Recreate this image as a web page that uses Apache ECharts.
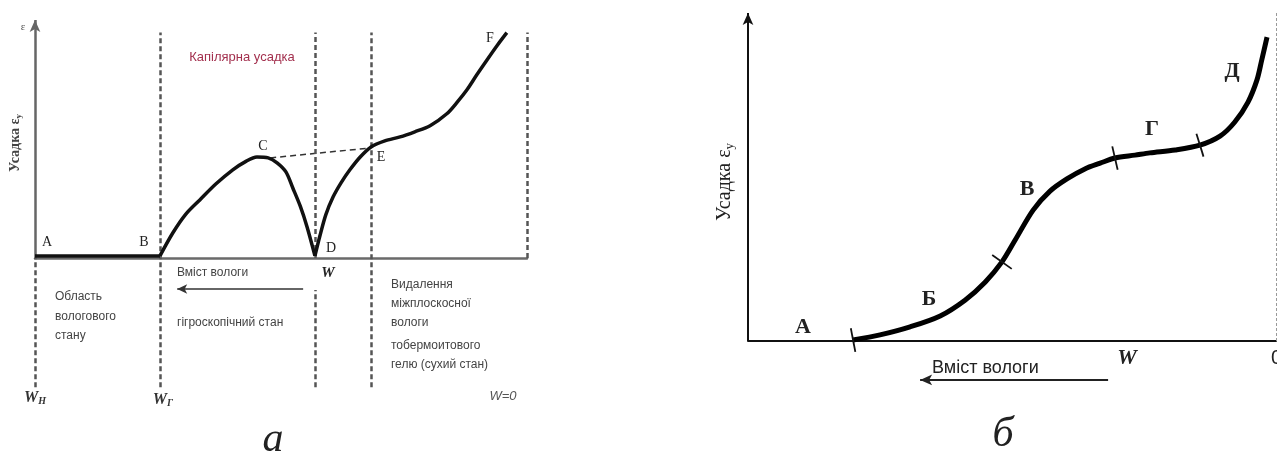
<!DOCTYPE html>
<html>
<head>
<meta charset="utf-8">
<script src="https://cdn.jsdelivr.net/npm/echarts@6/dist/echarts.min.js"></script>
<style>
  html, body { margin: 0; padding: 0; background: #fff; }
  #chart { width: 1277px; height: 459px; }
</style>
</head>
<body>
<div id="chart"></div>
<script>
// ---- Panel "а": shrinkage vs. moisture content (x: 0..100, y: shrinkage units) ----
const leftCurveAB = [[0, 0.9], [25.4, 0.9]];
const leftCurveBCD = [
  [25.4, 0.9], [28.0, 10.7], [30.7, 18.9], [33.5, 24.9], [36.8, 31.8], [40.2, 37.8],
  [42.7, 41.2], [45.1, 43.3], [47.4, 42.9], [49.2, 40.8], [51.0, 36.9], [52.4, 30.0],
  [53.9, 22.3], [55.3, 13.3], [56.9, 0.9]
];
const leftCurveDF = [
  [56.9, 0.9], [57.9, 9.4], [59.1, 18.5], [60.6, 26.2], [62.2, 32.2], [64.0, 37.8],
  [66.1, 43.3], [68.3, 47.6], [71.1, 50.2], [74.2, 51.9], [77.2, 54.1], [80.3, 56.7],
  [83.7, 61.8], [85.9, 67.0], [87.8, 72.1], [89.8, 78.5], [91.9, 85.0], [93.9, 91.0], [95.9, 96.6]
];
// chord C–E (extrapolated capillary shrinkage)
const leftChord = [[47.8, 42.9], [68.3, 47.2]];
// region dividers: [x, yFrom, yTo]
const leftDividers = [
  [0, -55.4, 0], [25.4, -55.4, 96.6], [56.9, 0, 96.6], [56.9, -55.4, -13.7],
  [68.3, -55.4, 96.6], [100, 0, 96.6]
];
// moisture-content direction arrow [xFrom, xTo, y]
const leftMoistureArrow = [28.9, 54.5, -13.3];

// ---- Panel "б": shrinkage curve with zones А–Д ----
const rightCurve = [
  [19.9, 0.3], [25.0, 1.9], [30.7, 4.4], [36.4, 7.8], [41.1, 12.7], [44.9, 18.3],
  [48.1, 24.6], [50.6, 31.4], [54.0, 40.7], [57.2, 46.6], [60.4, 50.4], [63.8, 53.5],
  [66.7, 55.3], [69.5, 56.9], [73.3, 57.8], [76.1, 58.5], [80.9, 59.4], [85.6, 60.9],
  [89.4, 63.7], [92.2, 68.1], [94.7, 74.3], [96.4, 81.2], [97.3, 87.4], [98.3, 94.5]
];
// zone boundaries on the curve (indices into rightCurve)
const rightZoneBounds = [0, 6, 13, 17];
const rightMoistureArrow = [32.6, 68.2, -12.1];

const chart = echarts.init(document.getElementById('chart'));

const serif = '"Liberation Serif", "DejaVu Serif", serif';
const sans = '"Liberation Sans", Arial, sans-serif';

function hiddenAxis(extra) {
  return Object.assign({
    type: 'value',
    axisTick: { show: false },
    axisLabel: { show: false },
    splitLine: { show: false }
  }, extra);
}

function txt(x, y, text, font, opts) {
  return {
    type: 'text', x: x, y: y,
    style: Object.assign({ text: text, font: font, fill: '#222', align: 'center', verticalAlign: 'middle' }, opts || {})
  };
}

function richTxt(x, y, text, rich, rotation) {
  return {
    type: 'text', x: x, y: y, rotation: rotation || 0,
    style: { text: text, align: 'center', verticalAlign: 'middle', rich: rich }
  };
}

const option = {
  animation: false,
  backgroundColor: '#fff',
  grid: [
    { left: 35, width: 492, top: 20, height: 378 },
    { left: 748, width: 528, top: 13, height: 392.3 }
  ],
  xAxis: [
    hiddenAxis({ gridIndex: 0, min: 0, max: 100,
      axisLine: { show: true, onZero: true, lineStyle: { color: '#6a6a6a', width: 2.5 } } }),
    hiddenAxis({ gridIndex: 1, min: 0, max: 100,
      axisLine: { show: true, onZero: true, lineStyle: { color: '#111', width: 2 } } })
  ],
  yAxis: [
    hiddenAxis({ gridIndex: 0, min: -60, max: 102, axisLine: { show: false } }),
    hiddenAxis({ gridIndex: 1, min: -20, max: 102, axisLine: { show: false } })
  ],
  series: [
    {
      type: 'line', xAxisIndex: 0, yAxisIndex: 0, data: leftCurveAB, symbol: 'none',
      lineStyle: { color: '#111', width: 3.5 }, clip: false, z: 5,
      markLine: {
        silent: true, symbol: 'none', label: { show: false },
        lineStyle: { color: '#555', width: 2.5, type: [5, 3] },
        data: leftDividers.map(d => [{ coord: [d[0], d[1]] }, { coord: [d[0], d[2]] }])
          .concat([[
            { coord: [0, 0], symbol: 'none', lineStyle: { type: 'solid', color: '#666', width: 2.5 } },
            { coord: [0, 102], symbol: 'arrow', symbolSize: [8, 12] }
          ]])
          .concat([[
            { coord: [leftMoistureArrow[0], leftMoistureArrow[2]], symbol: 'arrow', symbolSize: [7, 10],
              symbolRotate: 90, lineStyle: { type: 'solid', color: '#333', width: 1.5 } },
            { coord: [leftMoistureArrow[1], leftMoistureArrow[2]], symbol: 'none' }
          ]])
      }
    },
    {
      type: 'line', xAxisIndex: 0, yAxisIndex: 0, data: leftCurveBCD, symbol: 'none', smooth: 0.3,
      lineStyle: { color: '#111', width: 3.5 }, z: 5
    },
    {
      type: 'line', xAxisIndex: 0, yAxisIndex: 0, data: leftCurveDF, symbol: 'none', smooth: 0.3,
      lineStyle: { color: '#111', width: 3.5 }, z: 5
    },
    {
      type: 'line', xAxisIndex: 0, yAxisIndex: 0, data: leftChord, symbol: 'none',
      lineStyle: { color: '#333', width: 1.5, type: [6, 4] }, z: 4
    },
    {
      type: 'line', xAxisIndex: 1, yAxisIndex: 1, data: rightCurve, symbol: 'none', smooth: 0.3,
      lineStyle: { color: '#000', width: 5 }, clip: false, z: 5,
      markLine: {
        silent: true, label: { show: false },
        data: [
          [
            { coord: [0, 0], symbol: 'none', lineStyle: { type: 'solid', color: '#111', width: 2 } },
            { coord: [0, 102], symbol: 'arrow', symbolSize: [8, 12] }
          ],
          [
            { coord: [100, 0], symbol: 'none', lineStyle: { color: '#999', width: 1, type: [3, 2] } },
            { coord: [100, 102], symbol: 'none' }
          ],
          [
            { coord: [rightMoistureArrow[0], rightMoistureArrow[2]], symbol: 'arrow', symbolSize: [8, 12],
              symbolRotate: 90, lineStyle: { type: 'solid', color: '#222', width: 2 } },
            { coord: [rightMoistureArrow[1], rightMoistureArrow[2]], symbol: 'none' }
          ]
        ]
      }
    },
    {
      // short strokes across the curve marking zone boundaries
      type: 'custom', xAxisIndex: 1, yAxisIndex: 1, z: 6,
      data: rightZoneBounds.map(i => [rightCurve[i][0], rightCurve[i][1], i]),
      renderItem: function (params, api) {
        const i = api.value(2);
        const p = api.coord([api.value(0), api.value(1)]);
        const a = api.coord(rightCurve[Math.max(i - 1, 0)]);
        const b = api.coord(rightCurve[Math.min(i + 1, rightCurve.length - 1)]);
        let dx = b[0] - a[0], dy = b[1] - a[1];
        const len = Math.hypot(dx, dy) || 1;
        dx /= len; dy /= len;
        const L = 12;
        return {
          type: 'line',
          shape: { x1: p[0] + dy * L, y1: p[1] - dx * L, x2: p[0] - dy * L, y2: p[1] + dx * L },
          style: { stroke: '#111', lineWidth: 1.8 }
        };
      }
    }
  ],
  graphic: [
    // panel а
    txt(23, 27, 'ε', '11px ' + serif, { fill: '#555' }),
    richTxt(15, 143, '{a|Усадка ε}{s|у}', {
      a: { font: 'bold 14px ' + serif, fill: '#444' },
      s: { font: 'bold 9px ' + serif, fill: '#444', padding: [7, 0, 0, 0] }
    }, Math.PI / 2),
    txt(242, 57, 'Капілярна усадка', '13px ' + sans, { fill: '#a3304e' }),
    txt(47, 242, 'A', '14px ' + serif),
    txt(144, 242, 'B', '14px ' + serif),
    txt(263, 146, 'C', '14px ' + serif),
    txt(331, 248, 'D', '14px ' + serif),
    txt(381, 157, 'E', '14px ' + serif),
    txt(490, 38, 'F', '14px ' + serif),
    txt(328, 273, 'W', 'italic bold 15px ' + serif),
    txt(177, 273, 'Вміст вологи', '12px ' + sans, { align: 'left', fill: '#444' }),
    txt(177, 323, 'гігроскопічний стан', '12px ' + sans, { align: 'left', fill: '#444' }),
    txt(55, 297, 'Область', '12px ' + sans, { align: 'left', fill: '#444' }),
    txt(55, 317, 'вологового', '12px ' + sans, { align: 'left', fill: '#444' }),
    txt(55, 336, 'стану', '12px ' + sans, { align: 'left', fill: '#444' }),
    txt(391, 285, 'Видалення', '12px ' + sans, { align: 'left', fill: '#444' }),
    txt(391, 304, 'міжплоскосної', '12px ' + sans, { align: 'left', fill: '#444' }),
    txt(391, 323, 'вологи', '12px ' + sans, { align: 'left', fill: '#444' }),
    txt(391, 346, 'тобермоитового', '12px ' + sans, { align: 'left', fill: '#444' }),
    txt(391, 365, 'гелю (сухий стан)', '12px ' + sans, { align: 'left', fill: '#444' }),
    richTxt(35, 398, '{a|W}{s|Н}', {
      a: { font: 'italic bold 16px ' + serif, fill: '#333' },
      s: { font: 'italic bold 10px ' + serif, fill: '#333', padding: [6, 0, 0, 0] }
    }),
    richTxt(163, 400, '{a|W}{s|Г}', {
      a: { font: 'italic bold 16px ' + serif, fill: '#333' },
      s: { font: 'italic bold 10px ' + serif, fill: '#333', padding: [6, 0, 0, 0] }
    }),
    txt(503, 396, 'W=0', 'italic 13px ' + sans, { fill: '#555' }),
    txt(273, 440, 'а', 'italic 42px ' + serif, { fill: '#222' }),

    // panel б
    richTxt(725, 182, '{a|Усадка ε}{s|у}', {
      a: { font: '20px ' + serif, fill: '#222' },
      s: { font: '13px ' + serif, fill: '#222', padding: [9, 0, 0, 0] }
    }, Math.PI / 2),
    txt(803, 327, 'А', 'bold 22px ' + serif),
    txt(929, 299, 'Б', 'bold 22px ' + serif),
    txt(1027, 189, 'В', 'bold 22px ' + serif),
    txt(1152, 129, 'Г', 'bold 22px ' + serif),
    txt(1232, 71, 'Д', 'bold 22px ' + serif),
    txt(1127, 358, 'W', 'italic bold 22px ' + serif),
    txt(932, 368, 'Вміст вологи', '18px ' + sans, { align: 'left', fill: '#222' }),
    txt(1271, 358, '0', '20px ' + sans, { align: 'left', fill: '#222' }),
    txt(1003, 435, 'б', 'italic 42px ' + serif, { fill: '#222' })
  ]
};

chart.setOption(option);
</script>
</body>
</html>
